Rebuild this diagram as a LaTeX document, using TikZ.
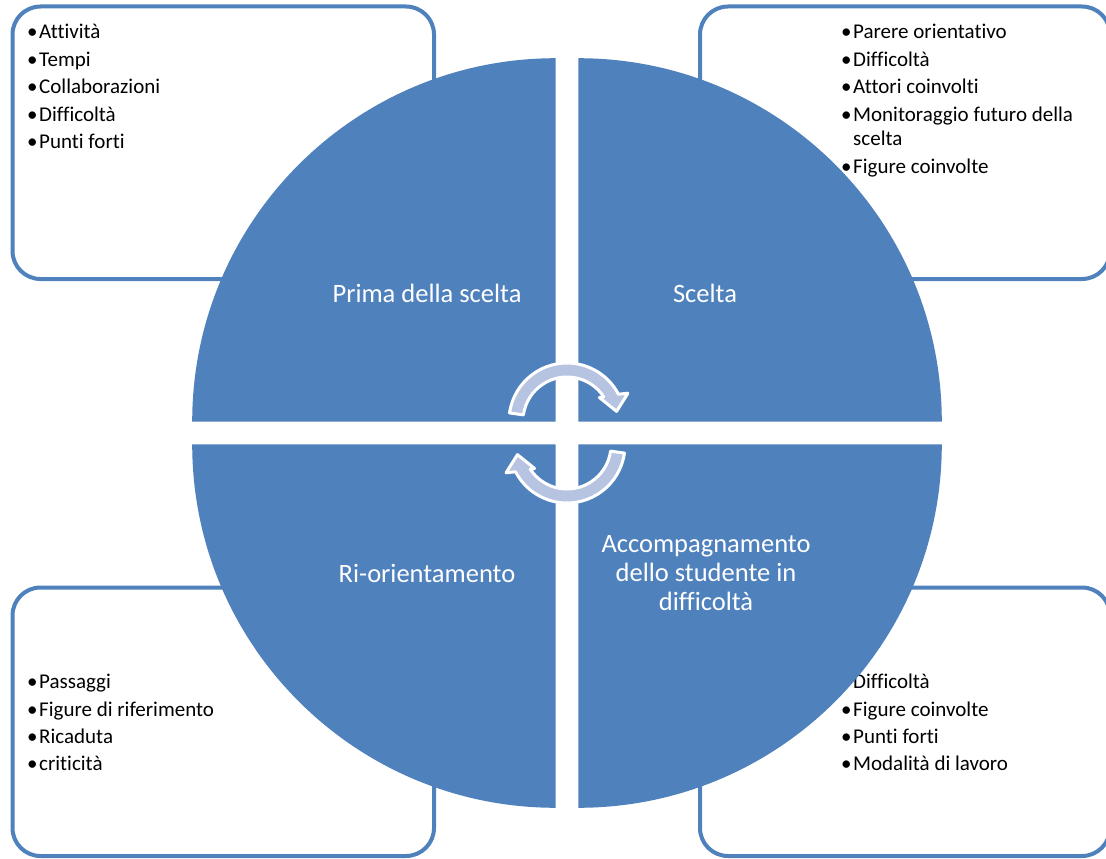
\documentclass[tikz,border=0pt]{standalone}
\usepackage{fontspec}
\setmainfont{Carlito}[Ligatures=NoCommon]
\definecolor{qblue}{RGB}{79,129,189}
\definecolor{arrowfill}{RGB}{182,196,225}
\tikzset{
  cyc/.pic={
    \filldraw[cyclearrow] (172:58) arc[start angle=172,end angle=27.5,radius=58]
      -- (24.5:67) -- (11:50.5) -- (36:40) -- (33.3:44)
      arc[start angle=33.3,end angle=172,radius=44] -- cycle;
  }
}
\begin{document}
\begin{tikzpicture}[x=1pt,y=-1pt,
  quad/.style={fill=qblue, draw=none},
  infobox/.style={draw=qblue, line width=4pt, fill=white, rounded corners=28pt, inner sep=0pt},
  listtext/.style={inner sep=0pt, anchor=base west, font=\fontsize{21}{24.5}\selectfont, text=black},
  quadlabel/.style={inner sep=0pt, text=white, font=\fontsize{26.5}{29}\selectfont, align=center},
  cyclearrow/.style={fill=arrowfill, draw=white, line width=3pt, line join=round}
]
\useasboundingbox (0,0) rectangle (1106,859);
\clip (0,0) rectangle (1106,859);
\fill[white] (0,0) rectangle (1106,859);

% corner boxes
\node[infobox, minimum width=421.5, minimum height=272.5] (boxTL) at (223.25,142.75) {};
\node[infobox, minimum width=410, minimum height=272.5] (boxTR) at (905,142.75) {};
\node[infobox, minimum width=421.5, minimum height=268.5] (boxBL) at (223.25,721.75) {};
\node[infobox, minimum width=410, minimum height=268.5] (boxBR) at (905,721.75) {};

% lists
\node[listtext] (listTL) at (27,39) {\begin{tabular}[t]{@{}l@{}l@{}}
\makebox[12pt][l]{•} & Attività\\[2.9pt]
\makebox[12pt][l]{•} & Tempi\\[2.9pt]
\makebox[12pt][l]{•} & Collaborazioni\\[2.9pt]
\makebox[12pt][l]{•} & Difficoltà\\[2.9pt]
\makebox[12pt][l]{•} & Punti forti
\end{tabular}};
\node[listtext] (listTR) at (841,39) {\begin{tabular}[t]{@{}l@{}l@{}}
\makebox[12pt][l]{•} & Parere orientativo\\[2.9pt]
\makebox[12pt][l]{•} & Difficoltà\\[2.9pt]
\makebox[12pt][l]{•} & Attori coinvolti\\[2.9pt]
\makebox[12pt][l]{•} & Monitoraggio futuro della\\
 & scelta\\[2.9pt]
\makebox[12pt][l]{•} & Figure coinvolte
\end{tabular}};
\node[listtext] (listBL) at (27,688.7) {\begin{tabular}[t]{@{}l@{}l@{}}
\makebox[12pt][l]{•} & Passaggi\\[2.9pt]
\makebox[12pt][l]{•} & Figure di riferimento\\[2.9pt]
\makebox[12pt][l]{•} & Ricaduta\\[2.9pt]
\makebox[12pt][l]{•} & criticità
\end{tabular}};
\node[listtext] (listBR) at (841,688.7) {\begin{tabular}[t]{@{}l@{}l@{}}
\makebox[12pt][l]{•} & Difficoltà\\[2.9pt]
\makebox[12pt][l]{•} & Figure coinvolte\\[2.9pt]
\makebox[12pt][l]{•} & Punti forti\\[2.9pt]
\makebox[12pt][l]{•} & Modalità di lavoro
\end{tabular}};

% quadrants
\fill[quad] (555.7,421.7) -- (192.2,421.7) arc[start angle=180,end angle=270,radius=363.5] -- cycle;
\fill[quad] (578.3,421.7) -- (578.3,58.2) arc[start angle=270,end angle=360,radius=363.5] -- cycle;
\fill[quad] (578.3,444.3) -- (941.8,444.3) arc[start angle=0,end angle=90,radius=363.5] -- cycle;
\fill[quad] (555.7,444.3) -- (555.7,807.8) arc[start angle=90,end angle=180,radius=363.5] -- cycle;

% quadrant labels
\node[quadlabel] (qTL) at (427,293) {Prima della scelta};
\node[quadlabel] (qTR) at (705,293) {Scelta};
\node[quadlabel] (qBL) at (427,573) {Ri-orientamento};
\node[quadlabel] (qBR) at (706,573.5) {Accompagnamento\\dello studente in\\difficoltà};

% cycle arrows
\pic[yscale=-1] (arrTop) at (567,421) {cyc};
\pic[yscale=-1, rotate=180] (arrBot) at (567,445) {cyc};
\end{tikzpicture}
\end{document}
